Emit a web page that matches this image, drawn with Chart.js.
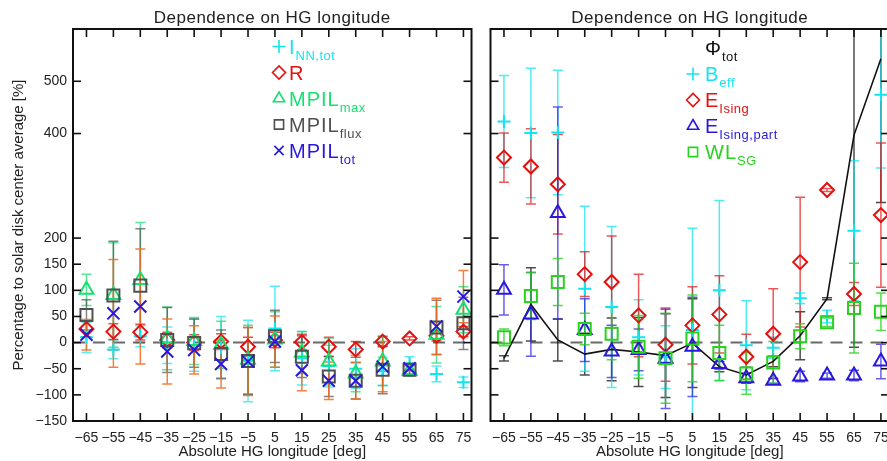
<!DOCTYPE html>
<html>
<head>
<meta charset="utf-8">
<script src="https://cdn.jsdelivr.net/npm/chart.js@4.4.1/dist/chart.umd.min.js"></script>
<style>
  html, body { margin: 0; padding: 0; background: #fff; overflow: hidden; width: 887px; height: 461px; }
  #left { position: absolute; left: 0; top: 0; }
  #right { position: absolute; left: 480px; top: 0; }
</style>
</head>
<body>
<canvas id="left" width="482" height="461"></canvas>
<canvas id="right" width="420" height="461"></canvas>
<script>
const FONT = '"Liberation Sans", Arial, sans-serif';
const TITLE = 'Dependence on HG longitude';
const X_TITLE = 'Absolute HG longitude [deg]';
const Y_TITLE = 'Percentage to solar disk center average [%]';

const LON = [-65, -55, -45, -35, -25, -15, -5, 5, 15, 25, 35, 45, 55, 65, 75];
const X_TICKS = [-65, -55, -45, -35, -25, -15, -5, 5, 15, 25, 35, 45, 55, 65, 75];
const Y_TICKS = [-150, -100, -50, 0, 50, 100, 150, 200, 400, 500];

// left panel
const I_NN_TOT     = [10, -13, 12, -5, -5, -10, -35, 27, -30, -45, -50, -55, -40, -60, -76];
const I_NN_TOT_ERR = [29, 18, 20, 35, 50, 60, 78, 81, 51, 40, 38, 27, 13, 15, 10];
const R_VAL        = [26, 21, 20, 5, 0, 2, -8, 5, 1, -8, -13, 2, 8, 13, 21];
const R_ERR        = [15, 15, 15, 15, 15, 15, 18, 15, 15, 18, 15, 10, 3, 10, 10];
const MPIL_MAX     = [101, 91, 120, 8, 3, -4, -33, 6, -19, -36, -59, -36, -54, 15, 63];
const MPIL_MAX_ERR = [30, 100, 110, 60, 45, 45, 66, 53, 40, 45, 35, 46, 10, 54, 44];
const MPIL_FLUX    = [53, 90, 109, 5, -1, -22, -35, 12, -27, -65, -73, -52, -52, 29, 37];
const MPIL_FLUX_ERR = [29, 104, 109, 62, 46, 46, 64, 50, 40, 38, 35, 46, 8, 52, 50];
const MPIL_TOT     = [15, 56, 69, -17, -14, -41, -36, 2, -53, -73, -73, -46, -49, 31, 88];
const MPIL_TOT_ERR = [29, 103, 110, 62, 46, 46, 65, 49, 39, 36, 35, 48, 5, 54, 50];

// right panel
const PHI_TOT      = [-30, 73, 5, -22, -13, -18, -25, -1, -46, -62, -36, 13, 84, 397, 543];
const PHI_TOT_ERR  = [5, 70, 40, 40, 60, 66, 80, 85, 10, 15, 10, 46, 2, 406, 275];
const B_EFF        = [423, 401, 402, 103, 68, 10, -28, 24, 100, -5, -10, 85, 50, 214, 474];
const B_EFF_ERR    = [88, 124, 119, 158, 154, 72, 60, 195, 172, 85, 20, 10, 12, 134, 140];
const E_ISING      = [354, 337, 303, 131, 116, 52, -4, 33, 54, -27, 17, 154, 292, 93, 244];
const E_ISING_ERR  = [47, 72, 95, 43, 88, 79, 70, 74, 74, 43, 86, 124, 3, 22, 138];
const E_ISING_PART = [101, 54, 248, 24, -17, -14, -31, -8, -41, -68, -73, -65, -63, -63, -36];
const E_ISING_PART_ERR = [48, 80, 203, 60, 50, 40, 95, 95, 10, 10, 5, 10, 5, 10, 33];
const WL_SG        = [10, 89, 116, 26, 17, -8, -30, 8, -20, -59, -38, 12, 39, 66, 59];
const WL_SG_ERR    = [16, 45, 45, 30, 50, 60, 86, 83, 53, 40, 40, 24, 8, 86, 36];

const CYAN = 'rgb(20,228,240)';
const RED = 'rgb(228,16,16)';
const SPRING = 'rgb(20,225,110)';
const GREEN = 'rgb(40,210,30)';
const GREY = 'rgb(80,80,80)';
const BLUE = 'rgb(40,24,222)';

function points(vals) {
  return LON.map((x, i) => ({ x: x, y: vals[i] }));
}

function series(main, sub, vals, errs, style, radius, color, errColor) {
  return {
    label: main + sub,
    main: main,
    sub: sub,
    data: points(vals),
    errors: errs,
    errColor: errColor,
    legendStyle: style,
    pointStyle: style,
    pointRadius: radius,
    pointHoverRadius: radius,
    pointBorderColor: color,
    pointBackgroundColor: 'rgba(0,0,0,0)',
    pointBorderWidth: 2,
    borderColor: color,
    backgroundColor: 'rgba(0,0,0,0)',
    showLine: false
  };
}

const fmt = v => (v < 0 ? '\u2212' + Math.abs(v) : String(v));

function line(ctx, x0, y0, x1, y1) {
  ctx.beginPath();
  ctx.moveTo(x0, y0);
  ctx.lineTo(x1, y1);
  ctx.stroke();
}

// dashed zero line, error bars, frame, titles and the in-plot legend
const panelPlugin = {
  id: 'panel',
  beforeDatasetsDraw(chart) {
    const { ctx, chartArea: a, scales: { x, y } } = chart;
    ctx.save();
    ctx.beginPath();
    ctx.rect(a.left, a.top, a.right - a.left, a.bottom - a.top);
    ctx.clip();

    const y0 = y.getPixelForValue(0);
    ctx.setLineDash([12, 8]);
    ctx.strokeStyle = 'rgba(90,90,90,0.9)';
    ctx.lineWidth = 2;
    line(ctx, a.left, y0, a.right, y0);
    ctx.setLineDash([]);

    ctx.lineWidth = 1.5;
    chart.data.datasets.forEach(ds => {
      if (!ds.errors) return;
      ctx.strokeStyle = ds.errColor;
      ds.data.forEach((p, i) => {
        const e = ds.errors[i];
        const px = x.getPixelForValue(p.x);
        const top = y.getPixelForValue(p.y + e);
        const bot = y.getPixelForValue(p.y - e);
        ctx.beginPath();
        ctx.moveTo(px, top); ctx.lineTo(px, bot);
        ctx.moveTo(px - 5, top); ctx.lineTo(px + 5, top);
        ctx.moveTo(px - 5, bot); ctx.lineTo(px + 5, bot);
        ctx.stroke();
      });
    });
    ctx.restore();
  },
  afterDraw(chart, args, opts) {
    const { ctx, chartArea: a, scales: { x, y } } = chart;
    ctx.save();

    // box and inward ticks
    ctx.strokeStyle = '#111';
    ctx.lineWidth = 2;
    ctx.strokeRect(a.left, a.top, a.right - a.left, a.bottom - a.top);
    ctx.lineWidth = 1.6;
    x.ticks.forEach(t => {
      const px = x.getPixelForValue(t.value);
      line(ctx, px, a.bottom, px, a.bottom - 8);
      line(ctx, px, a.top, px, a.top + 8);
    });
    y.ticks.forEach(t => {
      const py = y.getPixelForValue(t.value);
      line(ctx, a.left, py, a.left + 8, py);
      line(ctx, a.right, py, a.right - 8, py);
    });

    // panel title
    ctx.fillStyle = '#222';
    ctx.font = '17px ' + FONT;
    ctx.letterSpacing = '0.5px';
    ctx.textAlign = 'center';
    ctx.textBaseline = 'alphabetic';
    ctx.fillText(TITLE, (a.left + a.right) / 2, 22.5);

    // legend
    ctx.textAlign = 'left';
    chart.data.datasets.forEach((ds, i) => {
      const base = opts.base + 26 * i;
      if (ds.legendStyle) {
        ctx.strokeStyle = ds.borderColor;
        ctx.fillStyle = 'rgba(0,0,0,0)';
        Chart.helpers.drawPoint(ctx, { pointStyle: ds.legendStyle, radius: 6.5, rotation: 0, borderWidth: 2 }, opts.symX, base - 7);
      }
      ctx.fillStyle = ds.borderColor;
      ctx.font = '20px ' + FONT;
      ctx.letterSpacing = '1px';
      ctx.fillText(ds.main, opts.textX, base);
      const w = ctx.measureText(ds.main).width;
      ctx.font = '13px ' + FONT;
      ctx.letterSpacing = '0.5px';
      ctx.fillText(ds.sub, opts.textX + w, base + 6);
    });
    ctx.restore();
  }
};

function xAxis() {
  return {
    type: 'linear',
    min: -70,
    max: 78,
    afterBuildTicks: s => { s.ticks = X_TICKS.map(v => ({ value: v })); },
    afterFit: s => { s.height = 40; },
    grid: { display: false, drawTicks: false },
    border: { display: false },
    ticks: { autoSkip: false, maxRotation: 0, padding: 9, color: '#222', font: { size: 14, family: FONT }, callback: fmt },
    title: { display: true, text: X_TITLE, color: '#222', font: { size: 15, family: FONT }, padding: { top: 0, bottom: 0 } }
  };
}

function yAxis(withLabels, width) {
  return {
    type: 'linear',
    min: -150,
    max: 600,
    afterBuildTicks: s => { s.ticks = Y_TICKS.map(v => ({ value: v })); },
    afterFit: s => { s.width = width; },
    grid: { display: false, drawTicks: false },
    border: { display: false },
    ticks: { display: withLabels, padding: 6, color: '#222', font: { size: 14, family: FONT }, callback: fmt },
    title: { display: withLabels, text: Y_TITLE, color: '#222', font: { size: 15, family: FONT }, padding: { top: 10, bottom: 0 } }
  };
}

function makeChart(id, datasets, yWidth, padRight, legend) {
  datasets.forEach((ds, i) => { ds.order = datasets.length - i; });
  return new Chart(document.getElementById(id), {
    type: 'scatter',
    data: { datasets: datasets },
    options: {
      responsive: false,
      animation: false,
      layout: { padding: { top: 29, right: padRight, left: 0, bottom: 0 } },
      scales: { x: xAxis(), y: yAxis(yWidth > 20, yWidth) },
      plugins: { legend: { display: false }, tooltip: { enabled: false }, panel: legend }
    },
    plugins: [panelPlugin]
  });
}

makeChart('left', [
  series('I', 'NN,tot', I_NN_TOT, I_NN_TOT_ERR, 'cross', 6.5, CYAN, 'rgba(20,228,240,0.7)'),
  series('R', '', R_VAL, R_ERR, 'rectRot', 7, RED, 'rgba(228,16,16,0.75)'),
  series('MPIL', 'max', MPIL_MAX, MPIL_MAX_ERR, 'triangle', 8, SPRING, 'rgba(20,215,110,0.7)'),
  series('MPIL', 'flux', MPIL_FLUX, MPIL_FLUX_ERR, 'rect', 8.5, GREY, 'rgba(80,80,80,0.7)'),
  series('MPIL', 'tot', MPIL_TOT, MPIL_TOT_ERR, 'crossRot', 8.5, BLUE, 'rgba(245,105,30,0.85)')
], 73, 7, { symX: 279, textX: 289, base: 53.5 });

const phi = series('\u03a6', 'tot', PHI_TOT, PHI_TOT_ERR, null, 0, '#111', 'rgba(0,0,0,0.7)');
phi.showLine = true;
phi.borderWidth = 1.6;
phi.pointRadius = 0;

makeChart('right', [
  phi,
  series('B', 'eff', B_EFF, B_EFF_ERR, 'cross', 6.5, CYAN, 'rgba(20,228,240,0.75)'),
  series('E', 'Ising', E_ISING, E_ISING_ERR, 'rectRot', 7, RED, 'rgba(228,16,16,0.7)'),
  series('E', 'Ising,part', E_ISING_PART, E_ISING_PART_ERR, 'triangle', 8, BLUE, 'rgba(40,24,222,0.7)'),
  series('WL', 'SG', WL_SG, WL_SG_ERR, 'rect', 8.5, GREEN, 'rgba(40,210,30,0.8)')
], 7, 11, { symX: 213, textX: 225, base: 55 });
</script>
</body>
</html>
